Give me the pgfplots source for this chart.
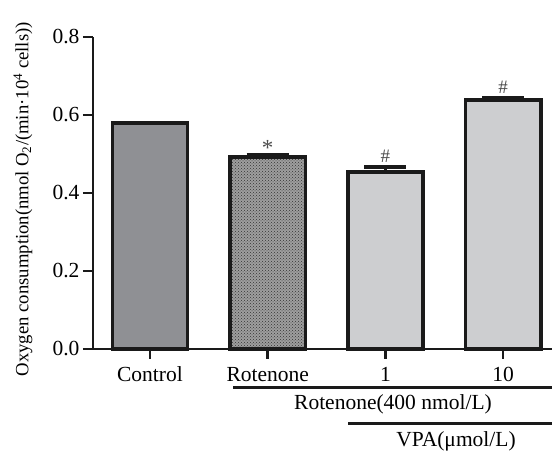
\documentclass[border=0pt]{standalone}
\usepackage{pgfplots}
\pgfplotsset{compat=1.18}
\usepackage{fontspec}
\setmainfont{Liberation Serif}
\usetikzlibrary{patterns}
\definecolor{darkbar}{HTML}{8F9094}
\definecolor{lightbar}{HTML}{CDCED0}
\definecolor{edge}{HTML}{1A1A1A}
\begin{document}
\begin{tikzpicture}[font=\fontsize{21.5}{25}\selectfont]
\useasboundingbox (0pt,0pt) rectangle (552pt,452pt);
\begin{axis}[
  at={(93pt,103pt)}, anchor=south west,
  scale only axis, width=459pt, height=312pt,
  xmin=-0.484, xmax=3.415, ymin=0, ymax=0.8,
  axis lines*=left,
  axis line style={line width=2.5pt, edge},
  ybar, bar width=0.64, bar shift=0pt,
  xtick={0,1,2,3},
  xticklabels={Control,Rotenone,1,10},
  ytick={0,0.2,0.4,0.6,0.8},
  /pgf/number format/fixed,
  /pgf/number format/fixed zerofill,
  /pgf/number format/precision=1,
  /pgf/number format/assume math mode=true,
  tick align=outside,
  major tick length=10pt,
  tick style={line width=2.5pt, edge},
  tick label style={font=\fontsize{21.5}{25}\selectfont},
  xticklabel style={anchor=base, yshift=-23pt},
  ylabel={Oxygen consumption(nmol O\textsubscript{2}/(min·10\textsuperscript{4} cells))},
  ylabel style={at={(axis description cs:-0.1525,0.48)}, anchor=center, font=\fontsize{18.7}{21}\selectfont},
  clip=false,
  every axis plot/.append style={draw=edge, line width=3.5pt},
  error bars/y dir=plus, error bars/y explicit,
  error bars/error mark options={line width=3.5pt, mark size=21pt, edge, rotate=90},
  error bars/error bar style={line width=3.5pt, edge},
]
\addplot[fill=darkbar, draw=edge] coordinates {(0,0.579) +- (0,0.002)};
\addplot[fill=black!38, draw=edge, postaction={pattern=crosshatch dots, pattern color=black!80},
  nodes near coords={\fontsize{23}{25}\selectfont *}, every node near coord/.style={text=black!70, anchor=south, yshift=-3pt}]
  coordinates {(1,0.492) +- (0,0.005)};
\addplot[fill=lightbar, draw=edge,
  nodes near coords={\fontsize{19}{21}\selectfont\#}, every node near coord/.style={text=black!70, anchor=south, yshift=4pt}]
  coordinates {(2,0.454) +- (0,0.013)};
\addplot[fill=lightbar, draw=edge,
  nodes near coords={\fontsize{19}{21}\selectfont\#}, every node near coord/.style={text=black!70, anchor=south, yshift=2pt}]
  coordinates {(3,0.638) +- (0,0.005)};
\end{axis}
\draw[line width=3pt, edge] (233pt,64pt) -- (552pt,64pt);
\node[anchor=base] at (393pt,42pt) {Rotenone(400 nmol/L)};
\draw[line width=3pt, edge] (348pt,28pt) -- (552pt,28pt);
\node[anchor=base] at (456pt,5pt) {VPA(μmol/L)};
\end{tikzpicture}
\end{document}
